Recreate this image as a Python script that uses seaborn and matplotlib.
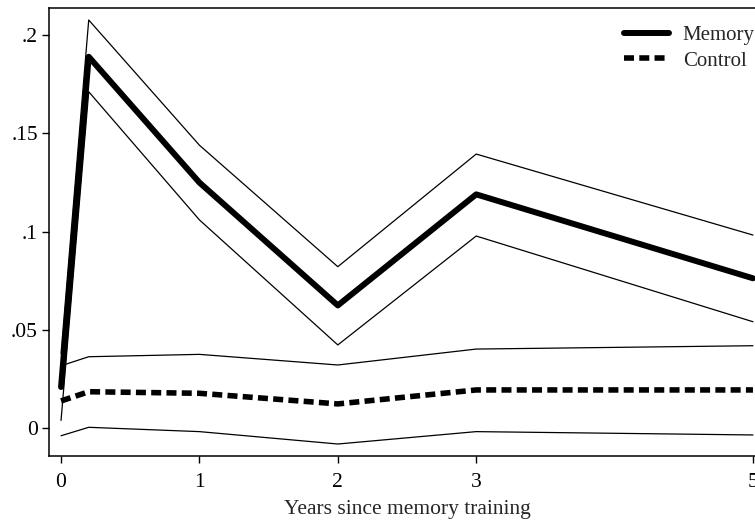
import numpy as np
import pandas as pd
import seaborn as sns
import matplotlib.pyplot as plt
from matplotlib.lines import Line2D

# -----------------------------
# Data
# -----------------------------
years = [0, 0.2, 1, 2, 3, 5]

memory_mean = [0.021, 0.189, 0.125, 0.0625, 0.119, 0.0763]
memory_upper = [0.038, 0.2077, 0.144, 0.0822, 0.1395, 0.0983]
memory_lower = [0.004, 0.1712, 0.106, 0.0424, 0.0978, 0.0542]

control_mean = [0.0139, 0.0186, 0.0178, 0.0124, 0.0195, 0.0195]
control_upper = [0.0318, 0.0364, 0.0376, 0.0322, 0.0403, 0.042]
control_lower = [-0.0038, 0.0005, -0.0017, -0.008, -0.0017, -0.0034]

x_ticks = [0, 1, 2, 3, 5]
y_ticks = [0, 0.05, 0.1, 0.15, 0.2]
y_ticklabels = ["0", ".05", ".1", ".15", ".2"]

sns.set_style("ticks")
plt.rcParams['font.family'] = ['Liberation Serif', 'DejaVu Serif']

fig = plt.figure(figsize=(7.55, 5.21), dpi=100)
ax = fig.add_axes([49 / 755, 65 / 521, 716 / 755, 448 / 521])

df = pd.DataFrame({
    'years': years,
    'memory': memory_mean, 'memory_hi': memory_upper, 'memory_lo': memory_lower,
    'control': control_mean, 'control_hi': control_upper, 'control_lo': control_lower,
})

# confidence bands as thin lines
for col in ['memory_hi', 'memory_lo', 'control_hi', 'control_lo']:
    sns.lineplot(data=df, x='years', y=col, ax=ax, color='black', linewidth=0.9)

sns.lineplot(data=df, x='years', y='memory', ax=ax, color='black', linewidth=4.3)
sns.lineplot(data=df, x='years', y='control', ax=ax, color='black', linewidth=4.0,
             linestyle=(0, (1.8, 0.95)))

ax.set_xlim(-0.087, 5.087)
ax.set_ylim(-0.0141, 0.2138)
ax.set_xticks(x_ticks)
ax.set_xticklabels([str(t) for t in x_ticks])
ax.set_yticks(y_ticks)
ax.set_yticklabels(y_ticklabels)

ax.tick_params(axis='both', direction='out', length=5, width=1, pad=3,
               labelsize=15.5, color='black', labelcolor='black')
ax.tick_params(axis='x', pad=7)
ax.set_xlabel('Years since memory training', fontsize=15.5, labelpad=6)
ax.set_ylabel('')

for side in ['top', 'left', 'bottom', 'right']:
    ax.spines[side].set_color('black')
    ax.spines[side].set_linewidth(1.1)

handles = [
    Line2D([], [], color='black', linewidth=4.3),
    Line2D([], [], color='black', linewidth=4.0, linestyle=(0, (1.8, 0.95))),
]
ax.legend(handles, ['Memory', 'Control'], loc='upper left',
          bbox_to_anchor=(0.792, 0.98), frameon=False, fontsize=15,
          handlelength=2.15, handletextpad=0.65, labelspacing=0.3,
          borderaxespad=0)

fig.savefig('out.png', dpi=100)
